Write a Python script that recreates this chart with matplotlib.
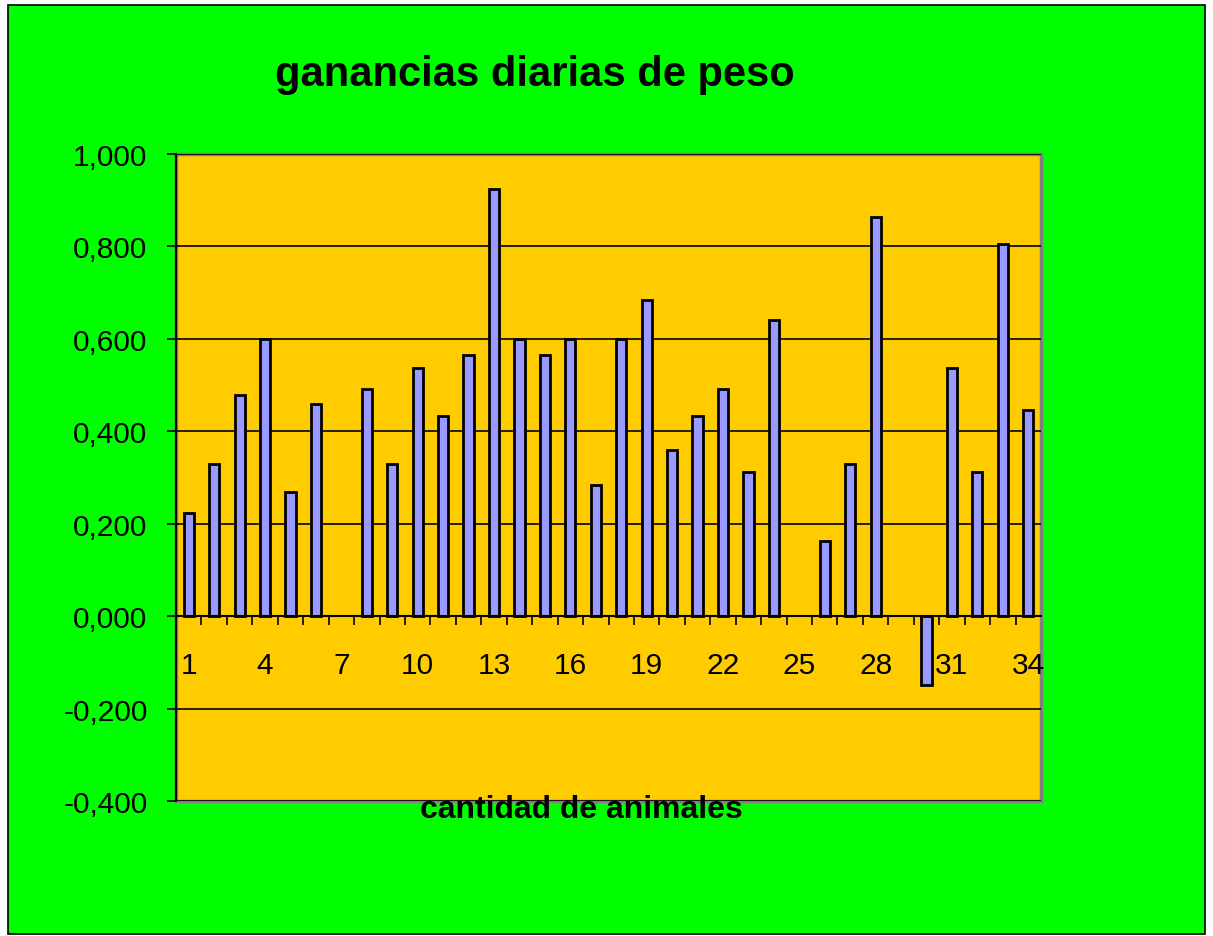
import matplotlib.pyplot as plt
import matplotlib.patches as patches
from matplotlib.ticker import FuncFormatter

plt.rcParams['font.family'] = ['Liberation Sans', 'DejaVu Sans']

# animal number and daily weight gain (kg/day); None = no bar drawn
animales = list(range(1, 35))
ganancia = [0.223, 0.329, 0.478, 0.600, 0.269, 0.460, None, 0.492, 0.329, 0.536,
            0.434, 0.566, 0.925, 0.600, 0.566, 0.600, 0.283, 0.600, 0.685, 0.359,
            0.434, 0.492, 0.312, 0.641, None, 0.162, 0.329, 0.864, None, -0.148,
            0.536, 0.312, 0.805, 0.447]
etiquetas_x = [1, 4, 7, 10, 13, 16, 19, 22, 25, 28, 31, 34]
ticks_y = [-0.4, -0.2, 0.0, 0.2, 0.4, 0.6, 0.8, 1.0]

fig = plt.figure(figsize=(12.13, 9.37), dpi=100)
fig.patch.set_facecolor('white')
fondo = patches.Rectangle((8 / 1213, 2 / 937), 1197 / 1213, 929 / 937,
                          transform=fig.transFigure, facecolor='#00FF00',
                          edgecolor='black', linewidth=1.2, zorder=-10)
fig.patches.append(fondo)

ax = fig.add_axes([176 / 1213, 1 - 802 / 937, 865 / 1213, 647 / 937])
ax.set_facecolor('#FFCC00')
ax.patch.set_edgecolor('#808080')
ax.patch.set_linewidth(2.5)

xs = [a for a, g in zip(animales, ganancia) if g is not None]
ys = [g for g in ganancia if g is not None]
ax.bar(xs, ys, width=0.4, color='#9999FF', edgecolor='black', linewidth=2, zorder=3)

ax.set_xlim(0.5, 34.5)
ax.set_ylim(-0.4, 1.0)
ax.set_yticks(ticks_y)
ax.yaxis.set_major_formatter(FuncFormatter(lambda v, p: f"{v:.3f}".replace('.', ',').replace('-0,000', '0,000')))
ax.grid(axis='y', color='black', linewidth=1.2, zorder=1)
ax.set_axisbelow(True)

ax.spines['bottom'].set_position(('data', 0))
ax.spines['bottom'].set_color('black')
ax.spines['bottom'].set_linewidth(1.5)
ax.spines['bottom'].set_zorder(4)
ax.spines['left'].set_color('black')
ax.spines['left'].set_linewidth(1.5)
ax.spines['top'].set_visible(False)
ax.spines['right'].set_visible(False)

ax.set_xticks(etiquetas_x)
ax.set_xticklabels([str(e) for e in etiquetas_x])
ax.set_xticks([a + 0.5 for a in animales[:-1]], minor=True)
ax.tick_params(axis='x', which='major', length=0, pad=25, labelsize=21.5)
ax.tick_params(axis='x', which='minor', length=6.5, width=1.2, direction='out', color='black')
ax.tick_params(axis='y', length=6.5, width=1.2, pad=14, labelsize=21.5, color='black')

fig.text(535 / 1213, 1 - 75 / 937, 'ganancias diarias de peso', ha='center', va='center',
         fontsize=30, fontweight='bold')
fig.text(581 / 1213, 1 - 810 / 937, 'cantidad de animales', ha='center', va='center',
         fontsize=23, fontweight='bold')

fig.savefig('out.png', dpi=100, facecolor=fig.get_facecolor())
